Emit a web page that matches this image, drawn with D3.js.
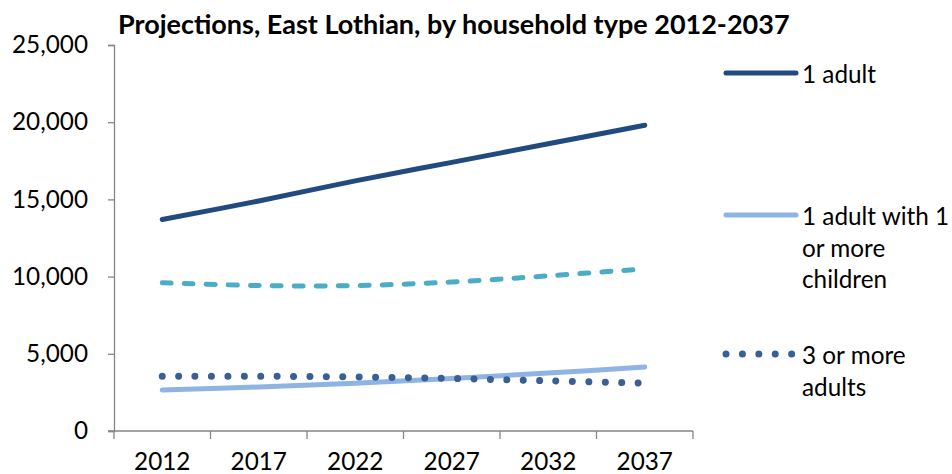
<!DOCTYPE html>
<html>
<head>
<meta charset="utf-8">
<script src="https://cdn.jsdelivr.net/npm/d3@7"></script>
<style>
  body { margin: 0; background: #fff; }
  svg { display: block; font-family: Lato, "Open Sans", sans-serif; }
</style>
</head>
<body>
<div id="chart"></div>
<script>
// data
var years = ["2012", "2017", "2022", "2027", "2032", "2037"];
var oneAdult = [13700, 14900, 16200, 17400, 18600, 19800];
var twoAdults = [9600, 9420, 9420, 9650, 10050, 10500];
var oneAdultKids = [2650, 2850, 3100, 3400, 3750, 4150];
var threePlus = [3550, 3550, 3500, 3400, 3250, 3100];
var yTicks = [0, 5000, 10000, 15000, 20000, 25000];

var series = [
  {name: "2 adults", values: twoAdults, color: "#4bacc6", width: 5, dash: "9,13", legend: false},
  {name: "1 adult with 1 or more children", values: oneAdultKids, color: "#8db4e2", width: 5, dash: null, legend: true},
  {name: "3 or more adults", values: threePlus, color: "#3a5f94", width: 7, dash: "0.01,16.4", legend: true},
  {name: "1 adult", values: oneAdult, color: "#214a80", width: 5, dash: null, legend: true}
];

var svg = d3.select("#chart")
    .append("svg")
    .attr("width", 952)
    .attr("height", 474);

var margin = {top: 45, left: 114, right: 259, bottom: 43};
var width = 952 - margin.left - margin.right;
var height = 474 - margin.top - margin.bottom;

var x = d3.scaleBand()
    .domain(years)
    .range([margin.left, margin.left + width])
    .padding(0);

var y = d3.scaleLinear()
    .domain([0, 25000])
    .range([margin.top + height, margin.top]);

var axisColor = "#868686";
var fmt = d3.format(",");

// fit a text element's font size so it spans the given width
function fitSize(text, weight, target) {
  var t = svg.append("text")
      .style("font-size", "100px")
      .style("font-weight", weight)
      .text(text);
  var w = t.node().getComputedTextLength();
  t.remove();
  return 100 * target / w;
}

var tickSize = fitSize("25,000", "normal", 76);
var titleSize = fitSize("Projections, East Lothian, by household type 2012-2037", "bold", 672);

// y axis
var yAxis = svg.append("g")
    .attr("transform", "translate(" + margin.left + ",0)")
    .call(d3.axisLeft(y).tickValues(yTicks).tickSize(6).tickPadding(20).tickFormat(fmt));
yAxis.select(".domain").attr("stroke", axisColor).attr("stroke-width", 1.3);
yAxis.selectAll(".tick line").attr("stroke", axisColor).attr("stroke-width", 1.3);
yAxis.selectAll(".tick text")
    .attr("fill", "#000")
    .style("font-size", tickSize + "px")
    .style("font-family", "Lato, sans-serif");

// x axis, ticks on category boundaries
var xg = svg.append("g")
    .attr("transform", "translate(0," + (margin.top + height) + ")");
xg.append("line")
    .attr("x1", margin.left - 6)
    .attr("x2", margin.left + width)
    .attr("stroke", axisColor)
    .attr("stroke-width", 1.3);
var bounds = years.map(function(d) { return x(d); }).concat([margin.left + width]);
xg.selectAll(".xt")
    .data(bounds)
  .enter().append("line")
    .attr("class", "xt")
    .attr("x1", function(d) { return d; })
    .attr("x2", function(d) { return d; })
    .attr("y1", 0)
    .attr("y2", 8)
    .attr("stroke", axisColor)
    .attr("stroke-width", 1.3);
xg.selectAll(".xl")
    .data(years)
  .enter().append("text")
    .attr("class", "xl")
    .attr("x", function(d) { return x(d) + x.bandwidth() / 2; })
    .attr("y", 29)
    .attr("text-anchor", "middle")
    .attr("dominant-baseline", "central")
    .style("font-size", tickSize + "px")
    .text(function(d) { return d; });

// lines
var line = d3.line()
    .x(function(d, i) { return x(years[i]) + x.bandwidth() / 2; })
    .y(function(d) { return y(d); })
    .curve(d3.curveCatmullRom);

svg.selectAll(".series")
    .data(series)
  .enter().append("path")
    .attr("class", "series")
    .attr("d", function(d) { return line(d.values); })
    .attr("fill", "none")
    .attr("stroke", function(d) { return d.color; })
    .attr("stroke-width", function(d) { return d.width; })
    .attr("stroke-linecap", "round")
    .attr("stroke-linejoin", "round")
    .attr("stroke-dasharray", function(d) { return d.dash; });

// legend
var legendItems = [
  {s: series[3], lines: ["1 adult"], y: 73},
  {s: series[1], lines: ["1 adult with 1", "or more", "children"], y: 215},
  {s: series[2], lines: ["3 or more", "adults"], y: 354}
];
var lg = svg.selectAll(".legend")
    .data(legendItems)
  .enter().append("g")
    .attr("class", "legend")
    .attr("transform", function(d) { return "translate(726," + d.y + ")"; });
lg.append("line")
    .attr("x1", 0)
    .attr("x2", function(d) { return d.s.dash ? 68 : 70; })
    .attr("stroke", function(d) { return d.s.color; })
    .attr("stroke-width", function(d) { return d.s.width; })
    .attr("stroke-linecap", "round")
    .attr("stroke-dasharray", function(d) { return d.s.dash; });
lg.each(function(d) {
  var t = d3.select(this).append("text")
      .attr("x", 76)
      .attr("y", 0)
      .attr("dominant-baseline", "central")
      .style("font-size", tickSize + "px");
  t.selectAll("tspan")
      .data(d.lines)
    .enter().append("tspan")
      .attr("x", 76)
      .attr("dy", function(l, i) { return i ? 31.5 : 0; })
      .text(function(l) { return l; });
});

// title
svg.append("text")
    .attr("x", 118)
    .attr("y", 34)
    .style("font-size", titleSize + "px")
    .style("font-weight", "bold")
    .text("Projections, East Lothian, by household type 2012-2037");
</script>
</body>
</html>
